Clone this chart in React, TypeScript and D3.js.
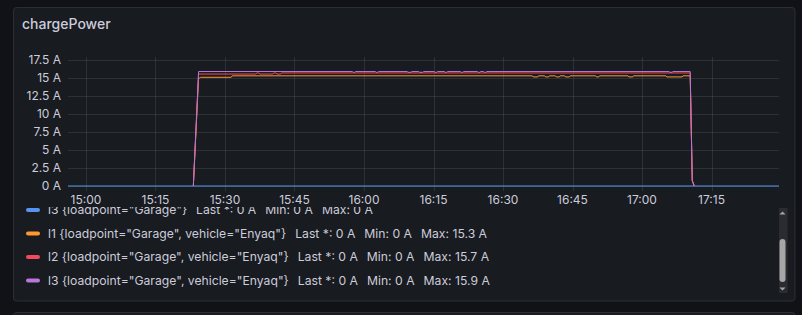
import React from "react";
import * as d3 from "d3";

// ---------- data ----------
const timeDomain = ["14:56:07", "17:29:34"];
const xTickLabels = ["15:00", "15:15", "15:30", "15:45", "16:00", "16:15", "16:30", "16:45", "17:00", "17:15"];
const yTickValues = [0, 2.5, 5, 7.5, 10, 12.5, 15, 17.5];

const l3GarageSeries: [string, number][] = [
  ["14:56:07", 0],
  ["17:29:34", 0],
];

const l1EnyaqSeries: [string, number][] = [
  ["15:23:10", 0], ["15:24:18", 15.0], ["15:24:35", 15.0], ["15:24:45", 15.1],
  ["15:31:20", 15.1], ["15:31:35", 15.3],
  ["16:36:20", 15.3], ["16:36:30", 15.15], ["16:37:30", 15.15], ["16:37:40", 15.3],
  ["16:39:00", 15.3], ["16:39:10", 15.15], ["16:39:50", 15.15], ["16:40:00", 15.3],
  ["16:41:20", 15.3], ["16:41:30", 15.15], ["16:42:10", 15.15], ["16:42:20", 15.3],
  ["16:43:20", 15.3], ["16:43:30", 15.15], ["16:44:20", 15.15], ["16:44:30", 15.3],
  ["16:50:00", 15.3], ["16:50:10", 15.15], ["16:50:40", 15.15], ["16:50:50", 15.3],
  ["16:57:00", 15.3], ["16:57:10", 15.15], ["16:58:00", 15.15], ["16:58:10", 15.3],
  ["17:05:10", 15.3], ["17:05:20", 15.15], ["17:08:40", 15.15], ["17:08:50", 15.3],
  ["17:10:24", 15.3], ["17:10:51", 0.7], ["17:11:17", 0],
];

const l2EnyaqSeries: [string, number][] = [
  ["15:23:10", 0], ["15:24:18", 15.55],
  ["15:36:40", 15.55], ["15:36:50", 15.7], ["15:37:20", 15.7], ["15:37:30", 15.55],
  ["15:40:20", 15.55], ["15:40:30", 15.7], ["15:41:00", 15.7], ["15:41:10", 15.55],
  ["15:42:00", 15.55], ["15:42:10", 15.7],
  ["17:10:24", 15.7], ["17:10:51", 0.7], ["17:11:17", 0],
];

const l3EnyaqSeries: [string, number][] = [
  ["15:23:10", 0], ["15:24:18", 15.9],
  ["15:57:30", 15.9], ["15:57:40", 15.8], ["15:58:00", 15.8], ["15:58:10", 15.9],
  ["16:02:30", 15.9], ["16:02:40", 15.8], ["16:03:00", 15.8], ["16:03:10", 15.9],
  ["16:09:20", 15.9], ["16:09:30", 15.8], ["16:10:10", 15.8], ["16:10:20", 15.9],
  ["16:11:50", 15.9], ["16:12:00", 15.8], ["16:12:40", 15.8], ["16:12:50", 15.9],
  ["16:15:10", 15.9], ["16:15:20", 15.8], ["16:15:40", 15.8], ["16:15:50", 15.9],
  ["16:17:20", 15.9], ["16:17:30", 15.8], ["16:17:50", 15.8], ["16:18:00", 15.9],
  ["16:20:50", 15.9], ["16:21:00", 15.8], ["16:21:20", 15.8], ["16:21:30", 15.9],
  ["16:24:30", 15.9], ["16:24:40", 15.8], ["16:25:00", 15.8], ["16:25:10", 15.9],
  ["16:25:50", 15.9], ["16:26:00", 15.8], ["16:26:20", 15.8], ["16:26:30", 15.9],
  ["17:05:50", 15.9], ["17:06:00", 15.8], ["17:06:30", 15.8], ["17:06:40", 15.9],
  ["17:10:24", 15.9], ["17:10:51", 0.8], ["17:11:17", 0],
];

const legendNames = [
  'l3 {loadpoint="Garage"}',
  'l1 {loadpoint="Garage", vehicle="Enyaq"}',
  'l2 {loadpoint="Garage", vehicle="Enyaq"}',
  'l3 {loadpoint="Garage", vehicle="Enyaq"}',
];
const legendLast = ["0 A", "0 A", "0 A", "0 A"];
const legendMin = ["0 A", "0 A", "0 A", "0 A"];
const legendMax = ["0 A", "15.3 A", "15.7 A", "15.9 A"];

// ---------- styles ----------
const COLORS = ["#5794F2", "#FF9830", "#F2495C", "#B877D9"];
const TEXT = "#ccccdc";
const FONT = "Inter, 'Noto Sans', sans-serif";

const W = 802;
const H = 315;
const plot = { left: 68, right: 779, top: 57, bottom: 191 };

const parseT = d3.timeParse("%H:%M:%S");
const parseHM = d3.timeParse("%H:%M");

export default function App() {
  const x = d3
    .scaleTime()
    .domain(timeDomain.map((t) => parseT(t) as Date))
    .range([plot.left, plot.right]);
  const y = d3.scaleLinear().domain([0, 17.5]).range([186, 60]);

  const line = d3
    .line<[string, number]>()
    .x((d) => x(parseT(d[0]) as Date))
    .y((d) => y(d[1]));

  const series = [l3GarageSeries, l1EnyaqSeries, l2EnyaqSeries, l3EnyaqSeries];
  const legendY = [210, 233.5, 257, 280.5];

  return (
    <svg
      width={W}
      height={H}
      style={{ position: "absolute", left: 0, top: 0, display: "block" }}
      fontFamily={FONT}
    >
      <rect x={0} y={0} width={W} height={H} fill="#111217" />
      {/* panel */}
      <rect x={13.5} y={7.5} width={781.5} height={293.5} rx={3} fill="#181b1f" stroke="#2b2e34" />
      {/* next panel */}
      <rect x={13.5} y={312.5} width={781.5} height={40} rx={3} fill="#181b1f" stroke="#2b2e34" />

      <text x={22} y={29} fill={TEXT} fontSize={14} fontWeight={500}>
        chargePower
      </text>

      {/* grid */}
      {yTickValues.map((v) => (
        <line
          key={"h" + v}
          x1={plot.left}
          x2={plot.right}
          y1={Math.round(y(v)) + 0.5}
          y2={Math.round(y(v)) + 0.5}
          stroke="rgba(240,250,255,0.1)"
        />
      ))}
      {xTickLabels.map((t) => {
        const xp = Math.round(x(parseHM(t) as Date)) + 0.5;
        return (
          <line key={"v" + t} x1={xp} x2={xp} y1={plot.top} y2={plot.bottom} stroke="rgba(240,250,255,0.1)" />
        );
      })}

      {/* y labels */}
      {yTickValues.map((v) => (
        <text key={"yl" + v} x={61} y={y(v) + 4} fill={TEXT} fontSize={12} textAnchor="end">
          {d3.format("~g")(v) + " A"}
        </text>
      ))}
      {/* x labels */}
      {xTickLabels.map((t) => (
        <text key={"xl" + t} x={x(parseHM(t) as Date)} y={204} fill={TEXT} fontSize={12} textAnchor="middle">
          {t}
        </text>
      ))}

      {/* series */}
      {series.map((s, i) => (
        <path key={"s" + i} d={line(s) || ""} fill="none" stroke={COLORS[i]} strokeWidth={1} />
      ))}

      {/* legend */}
      <defs>
        <clipPath id="legclip">
          <rect x={14} y={207} width={760} height={87} />
        </clipPath>
      </defs>
      <g clipPath="url(#legclip)">
        {legendNames.map((n, i) => (
          <g key={"lg" + i}>
            <rect x={26} y={legendY[i] - 2} width={14} height={4} rx={2} fill={COLORS[i]} />
            <text x={48} y={legendY[i] + 4} fill={TEXT} fontSize={12.2}>
              <tspan>{n}</tspan>
              <tspan dx={9}>{"Last *: " + legendLast[i]}</tspan>
              <tspan dx={9}>{"Min: " + legendMin[i]}</tspan>
              <tspan dx={9}>{"Max: " + legendMax[i]}</tspan>
            </text>
          </g>
        ))}
      </g>

      {/* scrollbar */}
      <rect x={779} y={208} width={8.5} height={85} fill="#2a2c31" />
      <rect x={779.5} y={239} width={6} height={43} rx={3} fill="#a6a6a6" />
      <path d="M779.5,214.5 L785.5,214.5 L782.5,211.5 Z" fill="#a6a6a6" />
      <path d="M779.5,287.5 L785.5,287.5 L782.5,290.5 Z" fill="#a6a6a6" />
    </svg>
  );
}
